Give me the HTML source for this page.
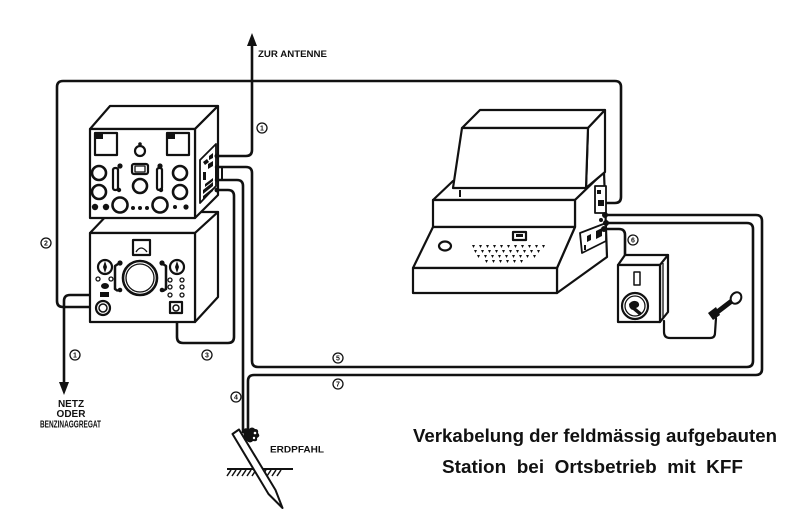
<!DOCTYPE html>
<html><head><meta charset="utf-8"><style>
html,body{margin:0;padding:0;background:#fff;}
svg{display:block;}
text{font-family:"Liberation Sans",sans-serif;font-weight:bold;fill:#111;}
</style></head><body>
<svg width="800" height="522" viewBox="0 0 800 522" xmlns="http://www.w3.org/2000/svg">
<rect width="800" height="522" fill="#fff"/>
<g fill="none" stroke="#111" stroke-width="2.6" stroke-linejoin="round" stroke-linecap="round">
<path d="M100,307 L63,307 Q57,307 57,301 L57,87 Q57,81 63,81 L615,81 Q621,81 621,87 L621,197 Q621,203 615,203 L605,203"/>
<path d="M105,295 L70,295 Q64,295 64,301 L64,384"/>
<path d="M218,156 L246,156 Q252,156 252,150 L252,42"/>
<path d="M216,167 L246,167 Q252,167 252,173 L252,361 Q252,367 258,367 L747,367 Q753,367 753,361 L753,229 Q753,223 747,223 L606,223"/>
<path d="M216,180 L237,180 Q243,180 243,186 L243,432"/>
<path d="M216,190 L228,190 Q234,190 234,196 L234,337 Q234,343 228,343 L183,343 Q177,343 177,337 L177,312"/>
<path d="M248,432 L248,381 Q248,375 254,375 L756,375 Q762,375 762,369 L762,221 Q762,215 756,215 L604,215"/>
<path d="M606,229 L619,229 Q625,229 625,235 L625,257"/>
<path d="M664,321 L664,332 Q664,338 670,338 L710,338 Q715,338 715,333 L716,318" stroke-width="2.2"/>
</g>
<polygon points="59,382 69,382 64,395" fill="#111"/>
<polygon points="247,46 257,46 252,33" fill="#111"/>

<!-- Lower unit -->
<g stroke="#111" stroke-width="2.2" fill="#fff" stroke-linejoin="round">
<polygon points="90,233 110,212 218,212 195,233"/>
<polygon points="195,233 218,212 218,297 195,322"/>
<rect x="90" y="233" width="105" height="89"/>
<rect x="133" y="240" width="17" height="15"/>
<path d="M136,252 Q141,244 147,252" fill="none" stroke-width="1.3"/>
<circle cx="140" cy="278" r="17" stroke-width="2.6"/>
<circle cx="140" cy="278" r="14" stroke-width="1.3"/>
<circle cx="105" cy="267" r="7"/>
<circle cx="177" cy="267" r="7"/>
<path d="M118,264 L115,266 L115,289 L118,291 M163,264 L166,266 L166,289 L163,291" fill="none" stroke-width="2.5"/>
<circle cx="98" cy="279" r="2" stroke-width="1.3"/>
<circle cx="111" cy="279" r="2" stroke-width="1.3"/>
<circle cx="103" cy="308" r="7"/>
<circle cx="103" cy="308" r="4" stroke-width="1.5"/>
<circle cx="170" cy="280" r="2" stroke-width="1.3"/>
<circle cx="182" cy="280" r="2" stroke-width="1.3"/>
<circle cx="170" cy="287" r="2" stroke-width="1.3"/>
<circle cx="182" cy="287" r="2" stroke-width="1.3"/>
<circle cx="170" cy="295" r="2" stroke-width="1.3"/>
<circle cx="182" cy="295" r="2" stroke-width="1.3"/>
<rect x="170" y="302" width="12" height="11"/>
<circle cx="176" cy="308" r="3" stroke-width="1.5"/>
</g>
<g fill="#111">
<path d="M105,261 L107,267 L105,273 L103,267Z"/>
<path d="M177,261 L179,267 L177,273 L175,267Z"/>
<circle cx="120" cy="263" r="2.6"/><circle cx="120" cy="290" r="2.3"/>
<circle cx="162" cy="263" r="2.6"/><circle cx="162" cy="290" r="2.3"/>
<ellipse cx="105" cy="286" rx="4" ry="3"/>
<rect x="100" y="292" width="9" height="5"/>
</g>

<!-- Upper unit -->
<g stroke="#111" stroke-width="2.2" fill="#fff" stroke-linejoin="round">
<polygon points="90,129 110,106 218,106 195,129"/>
<polygon points="195,129 218,106 218,195 195,218"/>
<rect x="90" y="129" width="105" height="89"/>
<rect x="95" y="133" width="22" height="22"/>
<rect x="167" y="133" width="22" height="22"/>
<circle cx="140" cy="151" r="5"/>
<circle cx="99" cy="173" r="7" stroke-width="2.6"/>
<circle cx="99" cy="192" r="7" stroke-width="2.6"/>
<circle cx="180" cy="173" r="7" stroke-width="2.6"/>
<circle cx="180" cy="192" r="7" stroke-width="2.6"/>
<rect x="132" y="164" width="16" height="10" rx="2"/>
<rect x="135" y="166" width="10" height="6" stroke-width="1.3"/>
<circle cx="140" cy="186" r="7" stroke-width="2.6"/>
<rect x="113" y="168" width="5" height="22" rx="2"/>
<rect x="157" y="168" width="5" height="22" rx="2"/>
<circle cx="120" cy="205" r="7.5" stroke-width="2.6"/>
<circle cx="160" cy="205" r="7.5" stroke-width="2.6"/>
<polygon points="200,160 216,144 216,186 200,203" stroke-width="1.8"/>
<rect x="216" y="167" width="6" height="13" fill="none" stroke-width="2"/>
</g>
<g fill="#111">
<path d="M96,134 h7 v5 h-7z"/>
<path d="M168,134 h7 v5 h-7z"/>
<circle cx="140" cy="144" r="1.8"/>
<circle cx="120" cy="166" r="2.6"/><circle cx="119" cy="190" r="2.2"/>
<circle cx="160" cy="166" r="2.6"/><circle cx="161" cy="190" r="2.2"/>
<circle cx="95" cy="207" r="3.2"/><circle cx="106" cy="207" r="3.2"/>
<circle cx="133" cy="208" r="2"/><circle cx="140" cy="208" r="2"/><circle cx="147" cy="208" r="2"/>
<circle cx="175" cy="207" r="2"/><circle cx="186" cy="207" r="2.6"/>
<path d="M203,162 l4,-3 l2,3 l-4,3z M209,156 l4,-3 v5 l-4,2z M203,172 l3,0 v8 h-3z M208,164 l5,-3 v5 l-5,3z M203,190 l10,-8 v4 l-10,8z M203,196 l10,-8 v3 l-10,8z M205,184 l8,-6 v3 l-8,6z"/>
<circle cx="217" cy="156" r="2.5"/><circle cx="217" cy="167" r="2.2"/><circle cx="217" cy="180" r="2.2"/><circle cx="217" cy="190" r="2.5"/>
</g>

<!-- KFF unit -->
<g stroke="#111" stroke-width="2.2" fill="#fff" stroke-linejoin="round">
<polygon points="433,200 453,181 604,172 575,200"/>
<polygon points="575,200 604,172 607,257 557,293 557,268 575,227"/>
<rect x="433" y="200" width="142" height="27"/>
<polygon points="433,227 575,227 557,268 413,268"/>
<rect x="413" y="268" width="144" height="25"/>
<polygon points="462,128 480,110 605,110 588,128"/>
<polygon points="588,128 605,110 605,172 586,188"/>
<polygon points="462,128 588,128 586,188 453,188"/>
<ellipse cx="445" cy="246" rx="6" ry="4.5"/>
<rect x="513" y="232" width="13" height="8"/>
<rect x="595" y="186" width="11" height="27" stroke-width="1.8"/>
<polygon points="580,233 606,223 606,241 582,253" stroke-width="1.8"/>
</g>
<g fill="#111">
<rect x="459" y="190" width="2" height="7"/>
<rect x="516" y="234" width="7" height="3"/>
<path d="M597,190 h4 v4 h-4z M598,200 h6 v6 h-6z M587,236 l4,-2 v6 l-4,2z M596,231 l6,-3 v8 l-6,3z M584,245 h2 v5 h-2z"/>
<circle cx="605" cy="215" r="3"/><circle cx="606" cy="223" r="3"/><circle cx="604" cy="229" r="3"/><circle cx="601" cy="220" r="2"/>
</g>
<g fill="#111">
<path d="M472,245h3l-1.5,3z M479,245h3l-1.5,3z M486,245h3l-1.5,3z M493,245h3l-1.5,3z M500,245h3l-1.5,3z M507,245h3l-1.5,3z M514,245h3l-1.5,3z M521,245h3l-1.5,3z M528,245h3l-1.5,3z M535,245h3l-1.5,3z M542,245h3l-1.5,3z"/>
<path d="M474,250h3l-1.5,3z M481,250h3l-1.5,3z M488,250h3l-1.5,3z M495,250h3l-1.5,3z M502,250h3l-1.5,3z M509,250h3l-1.5,3z M516,250h3l-1.5,3z M523,250h3l-1.5,3z M530,250h3l-1.5,3z M537,250h3l-1.5,3z"/>
<path d="M477,255h3l-1.5,3z M484,255h3l-1.5,3z M491,255h3l-1.5,3z M498,255h3l-1.5,3z M505,255h3l-1.5,3z M512,255h3l-1.5,3z M519,255h3l-1.5,3z M526,255h3l-1.5,3z M533,255h3l-1.5,3z"/>
<path d="M485,260h3l-1.5,3z M492,260h3l-1.5,3z M499,260h3l-1.5,3z M506,260h3l-1.5,3z M513,260h3l-1.5,3z M520,260h3l-1.5,3z"/>
</g>

<!-- Field telephone -->
<g stroke="#111" stroke-width="2.2" fill="#fff" stroke-linejoin="round">
<polygon points="618,265 625,255 668,255 660,265"/>
<polygon points="660,265 668,255 668,312 660,322"/>
<rect x="618" y="265" width="42" height="57"/>
<line x1="663" y1="263" x2="663" y2="318" stroke-width="1.3"/>
<rect x="634" y="272" width="6" height="13" stroke-width="1.5"/>
<circle cx="635" cy="306" r="13"/>
<circle cx="635" cy="306" r="10" stroke-width="1.3"/>
</g>
<path d="M629,304 q4,-5 9,-2 q3,4 -2,6 l6,5 l-3,2 l-6,-5 q-4,-1 -4,-6z" fill="#111"/>
<g stroke="#111" stroke-width="2" fill="#fff">
<path d="M716,313 L733,300" stroke-width="5"/>
<ellipse cx="736" cy="298" rx="5" ry="6" transform="rotate(35 736 298)"/>
</g>
<path d="M708,313 l8,-6 l4,8 l-7,5z" fill="#111"/>

<!-- Ground stake -->
<g stroke="#111" stroke-width="1.5">
<line x1="227" y1="469" x2="293" y2="469" stroke-width="2"/>
<path d="M231,470l-4,6 M236,470l-4,6 M241,470l-4,6 M246,470l-4,6 M251,470l-4,6 M256,470l-4,6 M261,470l-4,6 M266,470l-4,6 M271,470l-4,6 M276,470l-4,6 M281,470l-4,6"/>
</g>
<polygon points="232.5,434 239,429.5 275.5,490 282.5,508 268.5,494" fill="#fff" stroke="#111" stroke-width="2" stroke-linejoin="round"/>
<path d="M243,430 q2,-3 6,-1 q3,-3 6,0 q4,0 3,4 q3,3 -1,5 q1,4 -4,3 q-3,3 -6,0 q-4,0 -3,-4z" fill="#111"/>
<g fill="#fff"><circle cx="255" cy="433" r="1.3"/><circle cx="254" cy="438" r="1.2"/></g>

<!-- Circle labels -->
<g fill="#fff" stroke="#111" stroke-width="1.3">
<circle cx="262" cy="128" r="5"/>
<circle cx="46" cy="243" r="5"/>
<circle cx="75" cy="355" r="5"/>
<circle cx="207" cy="355" r="5"/>
<circle cx="338" cy="358" r="5"/>
<circle cx="338" cy="384" r="5"/>
<circle cx="236" cy="397" r="5"/>
<circle cx="633" cy="240" r="5"/>
</g>
<g font-size="7" text-anchor="middle">
<text x="262" y="130.5">1</text>
<text x="46" y="245.5">2</text>
<text x="75" y="357.5">1</text>
<text x="207" y="357.5">3</text>
<text x="338" y="360.5">5</text>
<text x="338" y="386.5">7</text>
<text x="236" y="399.5">4</text>
<text x="633" y="242.5">6</text>
</g>

<!-- Text labels -->
<text x="258" y="57" font-size="9.5" textLength="69" lengthAdjust="spacingAndGlyphs">ZUR ANTENNE</text>
<text x="71" y="407" font-size="10" text-anchor="middle">NETZ</text>
<text x="71" y="417" font-size="10" text-anchor="middle">ODER</text>
<text x="40" y="427.5" font-size="10.5" textLength="61" lengthAdjust="spacingAndGlyphs">BENZINAGGREGAT</text>
<text x="270" y="452.5" font-size="9.5" textLength="54" lengthAdjust="spacingAndGlyphs">ERDPFAHL</text>
<text x="413" y="442" font-size="18.5" textLength="364" lengthAdjust="spacingAndGlyphs">Verkabelung der feldmässig aufgebauten</text>
<text x="442" y="473" font-size="18.5" textLength="301" lengthAdjust="spacingAndGlyphs" style="white-space:pre">Station  bei  Ortsbetrieb  mit  KFF</text>
</svg>
</body></html>
